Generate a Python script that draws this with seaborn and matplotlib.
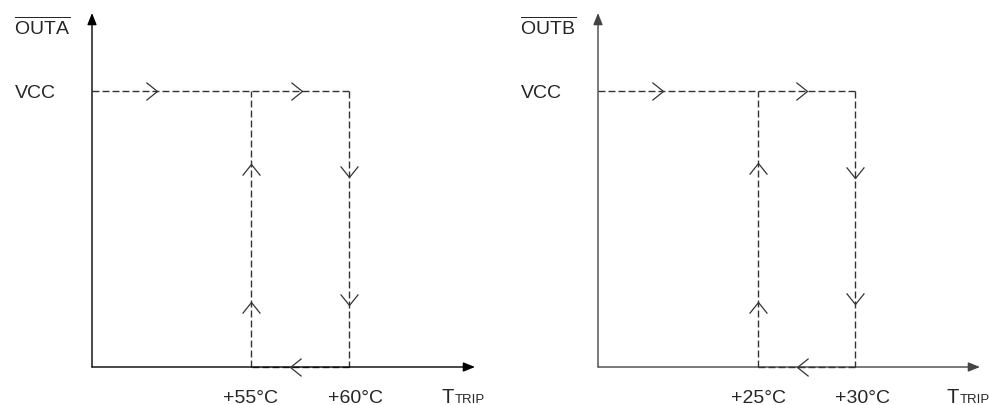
import numpy as np
import pandas as pd
import seaborn as sns
import matplotlib
matplotlib.use("Agg")
import matplotlib.pyplot as plt
from matplotlib.path import Path
from matplotlib.markers import MarkerStyle

# hysteresis data, temperature in degC, output as fraction of VCC
panel_names = ["OUTA", "OUTB"]
trip_low = [55, 25]
trip_high = [60, 30]
tick_labels = [["+55°C", "+60°C"], ["+25°C", "+30°C"]]
vcc_level = 1.0

# direction chevrons along the path: (temp, level, direction)
chevrons = [
    [(50.2, 1.0, "right"), (57.6, 1.0, "right"),
     (55, 0.735, "up"), (55, 0.236, "up"),
     (60, 0.688, "down"), (60, 0.225, "down"),
     (57.0, 0.0, "left")],
    [(20.1, 1.0, "right"), (27.5, 1.0, "right"),
     (25, 0.74, "up"), (25, 0.235, "up"),
     (30, 0.686, "down"), (30, 0.227, "down"),
     (27.0, 0.0, "left")],
]

sns.set_theme(style="white")
plt.rcParams["font.family"] = ["Liberation Sans", "DejaVu Sans"]
plt.rcParams["mathtext.fontset"] = "custom"
plt.rcParams["mathtext.rm"] = "Liberation Sans"

W, H = 989, 406
fig = plt.figure(figsize=(W / 100, H / 100), dpi=100)

# pixel layout per panel: y-axis x, arrow tip x, x of low trip, x of high trip
layout = [(92, 475, 251, 349), (598, 980, 758, 855)]
axis_y, top_y, vcc_y = 368, 14, 92
axis_color = ["black", "#444444"]
dash_on_top = [False, True]


def chevron(direction):
    v = np.array([(-1.0, 0.8), (0.0, 0.0), (-1.0, -0.8)])
    ang = {"right": 0, "up": 90, "left": 180, "down": 270}[direction]
    a = np.deg2rad(ang)
    rot = np.array([[np.cos(a), -np.sin(a)], [np.sin(a), np.cos(a)]])
    v = v @ rot.T
    return MarkerStyle(Path(v, [Path.MOVETO, Path.LINETO, Path.LINETO]))


for i, name in enumerate(panel_names):
    x0, x1, xl, xh = layout[i]
    ax = fig.add_axes([x0 / W, (H - axis_y) / H, (x1 - x0) / W, (axis_y - top_y) / H])
    ppd = (xh - xl) / (trip_high[i] - trip_low[i])
    xlo = trip_low[i] - (xl - x0) / ppd
    xhi = trip_high[i] + (x1 - xh) / ppd
    ax.set_xlim(xlo, xhi)
    ax.set_ylim(0, vcc_level * (axis_y - top_y) / (axis_y - vcc_y))
    ax.axis("off")

    lo, hi = trip_low[i], trip_high[i]
    path = pd.DataFrame({
        "t": [xlo, hi, hi, hi, hi, lo, lo, lo],
        "v": [vcc_level, vcc_level, vcc_level, 0, 0, 0, 0, vcc_level],
        "seg": [0, 0, 1, 1, 2, 2, 3, 3],
    })
    sns.lineplot(data=path, x="t", y="v", units="seg", estimator=None,
                 sort=False, ax=ax, color="#333333", lw=1,
                 dashes=False, legend=False,
                 zorder=3 if dash_on_top[i] else 1)
    for line in ax.lines:
        line.set_dashes((5, 2.2))
        line.set_clip_on(False)

    for t, v, d in chevrons[i]:
        ax.plot([t], [v], marker=chevron(d), ms=16, mfc="none",
                mec="#333333", mew=0.9, ls="none", clip_on=False, zorder=4)

    head = "-|>,head_length=0.5,head_width=0.2"
    for xy in [(1, 0), (0, 1)]:
        ax.annotate("", xy=xy, xytext=(0, 0), xycoords="axes fraction",
                    arrowprops=dict(arrowstyle=head, lw=1, color=axis_color[i],
                                    mutation_scale=14, shrinkA=0, shrinkB=0),
                    zorder=2)

    ax.annotate(r"$\overline{\mathregular{%s}}$" % name, xy=(0, 1),
                xycoords="axes fraction", xytext=(-78, -21),
                textcoords="offset pixels", ha="left", va="baseline",
                fontsize=14)
    ax.annotate("VCC", xy=(xlo, vcc_level), xytext=(-77, -6),
                textcoords="offset pixels", ha="left", va="baseline",
                fontsize=14)
    for t, lab, dx in zip([lo, hi], tick_labels[i], [0, 7]):
        ax.annotate(lab, xy=(t, 0), xytext=(dx, -35),
                    textcoords="offset pixels", ha="center", va="baseline",
                    fontsize=14)
    # axis name; on the right panel it runs past the figure edge as in the source
    ax.annotate("T", xy=(1, 0), xycoords="axes fraction", xytext=(-33, -35),
                textcoords="offset pixels", ha="left", va="baseline",
                fontsize=14.5, annotation_clip=False)
    ax.annotate("TRIP", xy=(1, 0), xycoords="axes fraction", xytext=(-20, -35),
                textcoords="offset pixels", ha="left", va="baseline",
                fontsize=9.5, annotation_clip=False)

fig.savefig("out.png", dpi=100)
